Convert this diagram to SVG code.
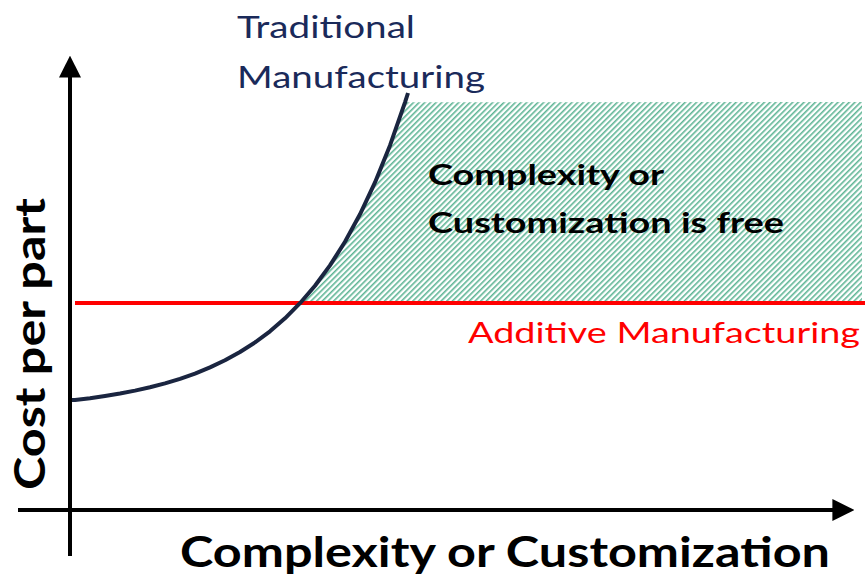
<svg xmlns="http://www.w3.org/2000/svg" width="865" height="578" viewBox="0 0 865 578">
<style>
.lbl{font-family:Lato,"Liberation Sans",Arial,sans-serif}
.b{font-weight:bold}
</style>
<defs>
<pattern id="hatch" patternUnits="userSpaceOnUse" width="4" height="4" patternTransform="rotate(45)">
<rect width="4" height="4" fill="#ffffff"/>
<rect width="1.6" height="4" fill="#5fb595"/>
</pattern>
<marker id="arr" viewBox="0 0 10 10" refX="8" refY="5" markerWidth="5.5" markerHeight="5.5" orient="auto" markerUnits="strokeWidth">
<path d="M0,0 L10,5 L0,10 z" fill="#000"/>
</marker>
</defs>
<rect width="865" height="578" fill="#fff"/>
<g id="free-region">
<path d="M300,303.2 L315,285.7 L330,265.4 L345,241.8 L360,214.3 L375,182.4 L390,145.4 L405,102.3 L862,102 L862,303 Z" fill="url(#hatch)"/>
<text class="lbl b" x="428" y="185" font-size="29" textLength="236" lengthAdjust="spacingAndGlyphs">Complexity or</text>
<text class="lbl b" x="428" y="233" font-size="29" textLength="356" lengthAdjust="spacingAndGlyphs">Customization is free</text>
</g>
<g id="connectors">
<line x1="70" y1="556" x2="70" y2="60" stroke="#000" stroke-width="4" marker-end="url(#arr)"/>
<line x1="18" y1="510" x2="850" y2="510" stroke="#000" stroke-width="4" marker-end="url(#arr)"/>
</g>
<g id="additive">
<line x1="75" y1="303" x2="865" y2="303" stroke="#ff0000" stroke-width="4"/>
<text class="lbl" x="468" y="343" font-size="29" fill="#ff0000" textLength="392" lengthAdjust="spacingAndGlyphs">Additive Manufacturing</text>
</g>
<g id="traditional">
<path d="M72,400 L75,400 L90,398.2 L105,396 L120,393.5 L135,390.6 L150,387.3 L165,383.4 L180,378.8 L195,373.6 L210,367.4 L225,360.3 L240,352 L255,342.4 L270,331.3 L285,318.3 L300,303.2 L315,285.7 L330,265.4 L345,241.8 L360,214.3 L375,182.4 L390,145.4 L405,102.3 L408,93" fill="none" stroke="#1a2540" stroke-width="4" stroke-linejoin="round"/>
<text class="lbl" x="237" y="38" font-size="30" fill="#1a2a5a" textLength="178" lengthAdjust="spacingAndGlyphs">Traditional</text>
<text class="lbl" x="237" y="88" font-size="30" fill="#1a2a5a" textLength="248" lengthAdjust="spacingAndGlyphs">Manufacturing</text>
</g>
<g id="x-label">
<text class="lbl b" x="180" y="567" font-size="42" textLength="650" lengthAdjust="spacingAndGlyphs">Complexity or Customization</text>
</g>
<g id="y-label">
<text class="lbl b" transform="translate(45,490) rotate(-90)" font-size="42" textLength="292" lengthAdjust="spacingAndGlyphs">Cost per part</text>
</g>
</svg>
